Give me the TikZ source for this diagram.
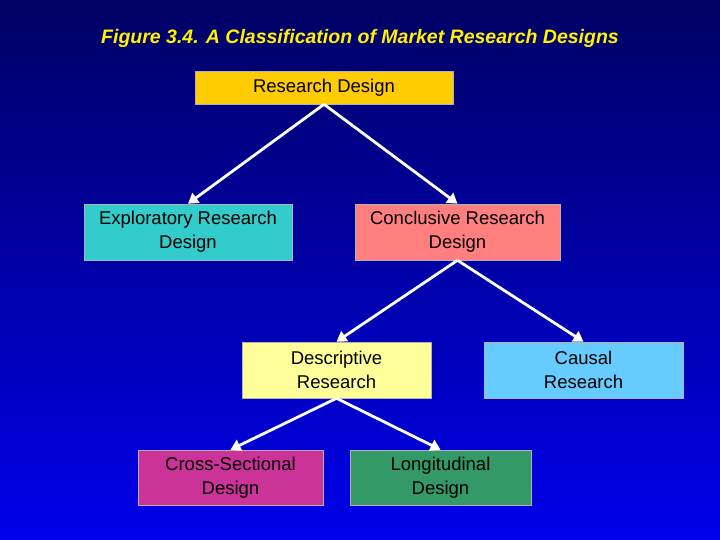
\documentclass[tikz,border=0pt]{standalone}
\usepackage{fontspec}
\setmainfont{Liberation Sans}
\usetikzlibrary{arrows.meta}
\definecolor{bgtop}{RGB}{0,0,100}
\definecolor{bgbot}{RGB}{0,0,235}
\definecolor{cgold}{RGB}{255,204,0}
\definecolor{cteal}{RGB}{51,204,204}
\definecolor{cpink}{RGB}{255,127,127}
\definecolor{cpale}{RGB}{255,255,153}
\definecolor{csky}{RGB}{102,204,255}
\definecolor{cmag}{RGB}{204,51,153}
\definecolor{cgreen}{RGB}{51,153,102}
\tikzset{
  box/.style={draw=gray!60, line width=0.6pt, inner sep=0pt, align=center,
    font=\fontsize{18.5}{24}\selectfont, text=black},
  conn/.style={draw=white, line width=2.8pt, -{Triangle[length=10pt,width=12pt]}},
}
\begin{document}
\begin{tikzpicture}[x=1pt,y=-1pt]
\shade[top color=bgtop, bottom color=bgbot] (0,0) rectangle (720,540);
\useasboundingbox (0,0) rectangle (720,540);
\node[text=yellow, font=\fontsize{19.5}{24}\selectfont\bfseries\itshape] (title) at (360,38) {Figure 3.4. A Classification of Market Research Designs};
\node[box, fill=cgold, minimum width=258pt, minimum height=33pt] (rd) at (324,87.5) {Research Design};
\node[box, fill=cteal, minimum width=208pt, minimum height=56pt] (ex) at (188,232) {Exploratory Research\\Design};
\node[box, fill=cpink, minimum width=205pt, minimum height=56pt] (co) at (457.5,232) {Conclusive Research\\Design};
\node[box, fill=cpale, minimum width=189pt, minimum height=56pt] (de) at (336.5,370) {Descriptive\\Research};
\node[box, fill=csky, minimum width=199pt, minimum height=56pt] (ca) at (583.5,370) {Causal\\Research};
\node[box, fill=cmag, minimum width=185pt, minimum height=55pt] (cs) at (230.5,477.5) {Cross-Sectional\\Design};
\node[box, fill=cgreen, minimum width=181pt, minimum height=55pt] (lo) at (440.5,477.5) {Longitudinal\\Design};
\draw[conn] (rd.south) -- (ex.north);
\draw[conn] (rd.south) -- (co.north);
\draw[conn] (co.south) -- (de.north);
\draw[conn] (co.south) -- (ca.north);
\draw[conn] (de.south) -- (cs.north);
\draw[conn] (de.south) -- (lo.north);
\end{tikzpicture}
\end{document}
